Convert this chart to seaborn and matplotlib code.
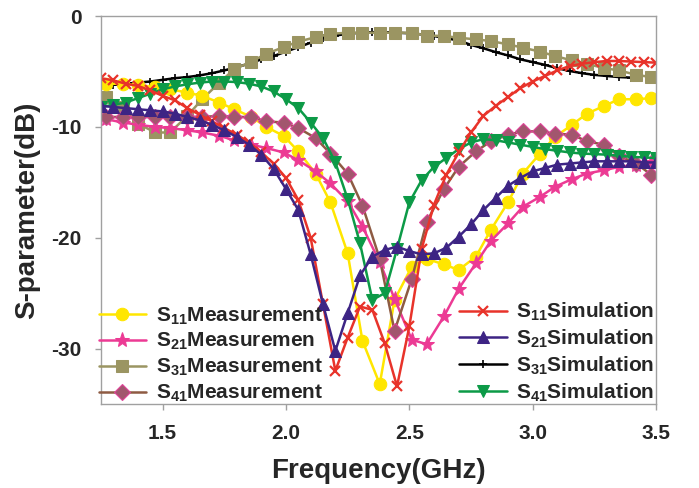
import matplotlib
matplotlib.use('Agg')
import matplotlib.pyplot as plt
import seaborn as sns

# Measurement frequency points (GHz)
freq_meas = [1.27, 1.34, 1.40, 1.47, 1.53, 1.60, 1.66, 1.73, 1.79, 1.86,
             1.92, 1.99, 2.05, 2.12, 2.18, 2.25, 2.31, 2.38, 2.44, 2.51,
             2.57, 2.64, 2.70, 2.77, 2.83, 2.90, 2.96, 3.03, 3.09, 3.16,
             3.22, 3.29, 3.35, 3.42, 3.48]

s11_meas = [-6.1, -6.1, -6.25, -6.4, -6.6, -6.9, -7.2, -7.8, -8.4, -9.1,
            -10.0, -10.8, -12.2, -14.2, -16.8, -21.4, -29.3, -33.2, -25.6, -22.6,
            -21.9, -22.4, -22.9, -21.7, -19.3, -16.8, -14.2, -12.4, -10.9, -9.8,
            -8.8, -8.1, -7.5, -7.5, -7.4]

s21_meas = [-9.3, -9.6, -9.8, -10.0, -10.1, -10.3, -10.5, -10.8, -11.2, -11.6,
            -11.9, -12.3, -13.0, -14.0, -15.1, -16.7, -19.0, -22.2, -25.5, -29.2,
            -29.6, -27.1, -24.6, -22.3, -20.3, -18.7, -17.2, -16.3, -15.4, -14.7,
            -14.2, -13.9, -13.6, -13.4, -13.2]

s31_meas = [-7.3, -8.2, -9.7, -10.5, -10.5, -9.0, -7.5, -6.0, -4.8, -4.1,
            -3.4, -2.8, -2.3, -1.9, -1.6, -1.5, -1.5, -1.5, -1.5, -1.5,
            -1.75, -1.8, -1.95, -2.1, -2.25, -2.55, -2.85, -3.2, -3.6, -4.0,
            -4.3, -4.7, -4.9, -5.3, -5.5]

s41_meas = [-9.1, -9.1, -9.1, -9.1, -9.1, -9.1, -9.1, -9.0, -9.1, -9.1,
            -9.5, -9.6, -10.1, -11.0, -12.4, -14.2, -17.1, -21.9, -28.4, -23.7,
            -18.6, -15.6, -13.6, -12.2, -11.3, -10.7, -10.4, -10.4, -10.6, -10.7,
            -11.3, -11.6, -12.6, -13.3, -14.3]

# Simulation frequency points (GHz)
freq_sim = [1.25, 1.30, 1.35, 1.40, 1.45, 1.50, 1.55, 1.60, 1.65, 1.70,
            1.75, 1.80, 1.85, 1.90, 1.95, 2.00, 2.05, 2.10, 2.15, 2.20,
            2.25, 2.30, 2.35, 2.40, 2.45, 2.50, 2.55, 2.60, 2.65, 2.70,
            2.75, 2.80, 2.85, 2.90, 2.95, 3.00, 3.05, 3.10, 3.15, 3.20,
            3.25, 3.30, 3.35, 3.40, 3.45, 3.50]

s11_sim = [-5.6, -5.8, -6.1, -6.3, -6.7, -7.2, -7.6, -8.3, -8.9, -9.5,
           -10.1, -10.7, -11.4, -12.3, -13.3, -14.6, -16.6, -20.0, -26.0, -32.0,
           -29.0, -26.2, -26.5, -29.5, -33.4, -28.0, -21.0, -17.0, -14.3, -12.3,
           -10.5, -9.0, -8.1, -7.3, -6.5, -5.9, -5.4, -4.9, -4.5, -4.3,
           -4.15, -4.05, -4.05, -4.1, -4.15, -4.2]

s21_sim = [-8.1, -8.2, -8.3, -8.4, -8.5, -8.6, -8.8, -9.1, -9.4, -9.8,
           -10.3, -10.9, -11.6, -12.5, -13.8, -15.6, -17.5, -21.5, -26.0, -30.2,
           -26.8, -23.4, -21.7, -21.1, -20.8, -21.2, -21.5, -21.4, -20.9, -19.9,
           -18.8, -17.5, -16.4, -15.3, -14.6, -14.0, -13.7, -13.4, -13.3, -13.2,
           -13.1, -13.1, -13.1, -13.1, -13.2, -13.2]

s31_sim = [-6.3, -6.2, -6.1, -6.0, -5.9, -5.75, -5.6, -5.5, -5.35, -5.15,
           -4.9, -4.6, -4.3, -3.9, -3.6, -3.2, -2.8, -2.4, -2.0, -1.75,
           -1.6, -1.5, -1.45, -1.45, -1.5, -1.55, -1.65, -1.8, -2.0, -2.2,
           -2.6, -2.9, -3.25, -3.55, -3.9, -4.15, -4.4, -4.7, -4.95, -5.15,
           -5.3, -5.4, -5.5, -5.55]

s41_sim = [-8.2, -8.0, -7.8, -7.4, -7.0, -6.6, -6.35, -6.15, -6.0, -5.9,
           -5.9, -5.95, -6.1, -6.35, -6.8, -7.5, -8.3, -9.6, -11.0, -13.2,
           -16.5, -20.5, -25.6, -25.0, -21.0, -16.8, -14.8, -13.6, -12.8, -12.0,
           -11.4, -11.1, -11.2, -11.4, -11.6, -11.8, -12.0, -12.15, -12.3, -12.4,
           -12.45, -12.5, -12.6, -12.7, -12.75, -12.8]

sns.set_style('ticks')
plt.rcParams['font.family'] = ['Liberation Sans', 'DejaVu Sans']
plt.rcParams['font.weight'] = 'bold'
plt.rcParams['mathtext.fontset'] = 'custom'
plt.rcParams['mathtext.rm'] = 'Liberation Sans:bold'
plt.rcParams['mathtext.it'] = 'Liberation Sans:bold'
plt.rcParams['mathtext.bf'] = 'Liberation Sans:bold'

fig = plt.figure(figsize=(6.99, 4.88), dpi=100)
ax = fig.add_axes([0.1445, 0.172, 0.794, 0.795])

lw = 1.8
# simulation black behind
sns.lineplot(x=freq_sim[:len(s31_sim)], y=s31_sim, ax=ax, color='black', lw=lw,
             marker='+', markersize=6, markeredgewidth=1.2, markeredgecolor='black')
sns.lineplot(x=freq_meas, y=s31_meas, ax=ax, color='#9B9562', lw=lw,
             marker='s', markersize=8, markeredgecolor='#9B9562')
sns.lineplot(x=freq_meas, y=s11_meas, ax=ax, color='#FFE600', lw=lw,
             marker='o', markersize=9, markeredgecolor='#FFE600')
sns.lineplot(x=freq_meas, y=s21_meas, ax=ax, color='#EC3A94', lw=lw,
             marker='*', markersize=11, markeredgecolor='#EC3A94')
sns.lineplot(x=freq_meas, y=s41_meas, ax=ax, color='#8E5B43', lw=lw,
             marker='D', markersize=8, markerfacecolor='#A2566E', markeredgecolor='#E0449A',
             markeredgewidth=0.8)
sns.lineplot(x=freq_sim, y=s41_sim, ax=ax, color='#0C9A47', lw=lw,
             marker='v', markersize=8, markeredgecolor='#0C9A47')
sns.lineplot(x=freq_sim, y=s11_sim, ax=ax, color='#E8332A', lw=lw,
             marker='x', markersize=7, markeredgewidth=1.6, markeredgecolor='#E8332A')
sns.lineplot(x=freq_sim, y=s21_sim, ax=ax, color='#3D2484', lw=lw,
             marker='^', markersize=8, markeredgecolor='#3D2484')

lines = ax.get_lines()
l_s31s, l_s31m, l_s11m, l_s21m, l_s41m, l_s41s, l_s11s, l_s21s = lines

leg1 = ax.legend([l_s11m, l_s21m, l_s31m, l_s41m],
                 ['S$_{11}$Measurement', 'S$_{21}$Measuremen',
                  'S$_{31}$Measurement', 'S$_{41}$Measurement'],
                 loc='lower left', bbox_to_anchor=(-0.012, -0.011), frameon=False,
                 fontsize=15, handlelength=2.3, handletextpad=0.45,
                 labelspacing=0.22, borderaxespad=0, borderpad=0.2)
ax.add_artist(leg1)
ax.legend([l_s11s, l_s21s, l_s31s, l_s41s],
          ['S$_{11}$Simulation', 'S$_{21}$Simulation',
           'S$_{31}$Simulation', 'S$_{41}$Simulation'],
          loc='lower right', bbox_to_anchor=(1.005, -0.01), frameon=False,
          fontsize=15, handlelength=2.3, handletextpad=0.45,
          labelspacing=0.22, borderaxespad=0, borderpad=0.2)

ax.set_xlim(1.25, 3.5)
ax.set_ylim(-35, 0)
ax.set_xticks([1.5, 2.0, 2.5, 3.0, 3.5])
ax.set_xticklabels(['1.5', '2.0', '2.5', '3.0', '3.5'])
ax.set_yticks([0, -10, -20, -30])
ax.set_yticklabels(['0', '-10', '-20', '-30'])
ax.tick_params(axis='both', direction='out', length=4, width=1, color='#A0A0A0',
               labelsize=15, pad=10)
for lab in ax.get_xticklabels() + ax.get_yticklabels():
    lab.set_fontweight('bold')
for sp in ax.spines.values():
    sp.set_visible(True)
    sp.set_color('#A0A0A0')
    sp.set_linewidth(1)

ax.set_xlabel('Frequency(GHz)', fontsize=20, fontweight='bold', labelpad=11)
ax.set_ylabel('S-parameter(dB)', fontsize=20, fontweight='bold', labelpad=8)

fig.savefig('out.png', dpi=100)
